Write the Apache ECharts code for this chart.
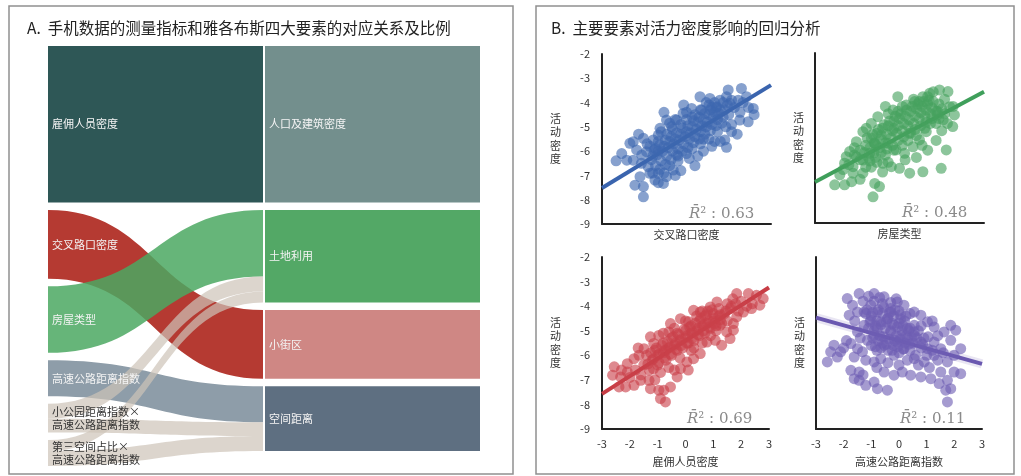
<!DOCTYPE html>
<html>
<head>
<meta charset="utf-8">
<script src="https://cdn.jsdelivr.net/npm/echarts@6/dist/echarts.min.js"></script>
<style>
html,body{margin:0;padding:0;background:#fff;}
#main{width:1021px;height:476px;}
</style>
</head>
<body>
<div id="main"></div>
<script>
// ---------- Panel A: phone-data measures -> Jacobs' four elements (share, %) ----------
const measureNames = ['雇佣人员密度', '交叉路口密度', '房屋类型', '高速公路距离指数',
  '小公园距离指数×高速公路距离指数', '第三空间占比×高速公路距离指数'];
const elementNames = ['人口及建筑密度', '土地利用', '小街区', '空间距离'];
const flowFrom = ['雇佣人员密度', '交叉路口密度', '房屋类型', '高速公路距离指数',
  '小公园距离指数×高速公路距离指数', '小公园距离指数×高速公路距离指数',
  '第三空间占比×高速公路距离指数', '第三空间占比×高速公路距离指数'];
const flowTo = ['人口及建筑密度', '小街区', '土地利用', '空间距离',
  '土地利用', '空间距离', '土地利用', '空间距离'];
const flowShare = [40.9, 18.0, 17.4, 9.4, 3.9, 3.6, 2.9, 3.9];

// ---------- Panel B: standardized predictor vs. log activity density ----------
const titleA = 'A.  手机数据的测量指标和雅各布斯四大要素的对应关系及比例';
const titleB = 'B.  主要要素对活力密度影响的回归分析';
const xNames = ['交叉路口密度', '房屋类型', '雇佣人员密度', '高速公路距离指数'];
const yName = '活动密度';
const r2Values = ['0.63', '0.48', '0.69', '0.11'];
const xTicks = [-3, -2, -1, 0, 1, 2, 3];
const yTicks = [-9, -8, -7, -6, -5, -4, -3, -2];

const crossDensity = [
  [1.48,-3.48],[1.95,-3.42],[1.42,-3.76],[1.84,-3.9],[2.13,-3.76],[2.37,-4.24],[2.19,-4.79],[1.89,-4.72],
  [1.54,-4.03],[1.19,-3.9],[1.07,-4.17],[0.83,-3.83],[0.48,-3.76],[0.54,-4.31],[0.18,-4.24],[-0.12,-4.45],
  [-0.35,-4.72],[-0.71,-4.72],[-0.53,-4.99],[-0.94,-5.06],[-1.0,-5.34],[-1.18,-5.54],[-1.53,-5.47],[-1.89,-5.61],
  [-2.01,-5.68],[-2.12,-6.37],[-1.89,-6.37],[-1.59,-6.16],[-1.42,-6.02],[-1.77,-5.95],[-1.36,-6.64],[-1.3,-6.91],
  [-1.65,-7.05],[-1.83,-7.4],[-1.53,-7.46],[-1.53,-7.88],[-1.12,-7.19],[-1.0,-6.91],[-0.71,-7.05],[-0.82,-7.33],
  [-0.47,-6.78],[1.36,-5.54],[1.42,-5.84],[1.6,-5.2],
  [-1.2,-6.2],[-1.0,-6.0],[-0.8,-5.8],[-0.6,-5.6],[-0.4,-5.5],[-0.2,-5.3],[0,-5.2],[0.2,-5.0],[0.4,-4.8],
  [0.6,-4.7],[0.8,-4.5],[1.0,-4.4],[1.2,-4.3],[-1.1,-6.6],[-0.9,-6.4],[-0.7,-6.2],[-0.5,-6.0],[-0.3,-5.9],
  [-0.1,-5.7],[0.1,-5.5],[0.3,-5.4],[0.5,-5.2],[0.7,-5.0],[0.9,-4.9],[1.1,-4.7],[1.3,-4.6],[-1.3,-5.8],
  [-1.0,-5.6],[-0.7,-5.3],[-0.5,-5.1],[-0.2,-4.9],[0.0,-4.7],[0.3,-4.5],[0.5,-4.3],[0.8,-4.1],[1.0,-4.0],
  [-0.6,-6.6],[-0.3,-6.4],[0,-6.1],[0.2,-5.9],[0.5,-5.7],[0.8,-5.5],[1.1,-5.2],[0.6,-6.0],[-0.2,-6.8],
  [0.1,-6.3],[0.9,-5.8],[1.5,-4.5],[1.7,-4.2],[1.3,-4.0],[0.0,-4.4],[-0.9,-5.2],[-1.4,-5.7],[-1.6,-6.5],
  [-1.2,-6.9],[-0.4,-7.0],[0.3,-6.6],[1.6,-4.9],[1.9,-4.4],[2.2,-4.2],[1.4,-5.0],[1.2,-5.6],[0.4,-6.2],
  [-0.8,-6.9],[-1.0,-7.3],[-2.3,-6.1],[-2.5,-6.4],[2.0,-4.0],[0.7,-4.0],[-0.1,-4.1],[-0.8,-4.4],[-1.7,-5.3],
  [2.4,-4.5],[1.0,-5.6],[0.6,-5.5],[-0.3,-6.2],[-1.1,-5.9],[0.2,-4.6],[0.9,-4.2],[1.8,-5.3],
  [-1.25,-6.35],[-1.05,-6.15],[-0.85,-6.0],[-0.65,-5.85],[-0.45,-5.7],[-0.25,-5.55],[-0.05,-5.4],[0.15,-5.25],
  [0.35,-5.1],[0.55,-4.95],[0.75,-4.8],[0.95,-4.6],[1.15,-4.45],[1.35,-4.3],[-1.15,-5.95],[-0.95,-5.75],
  [-0.75,-5.55],[-0.55,-5.4],[-0.35,-5.25],[-0.15,-5.05],[0.05,-4.95],[0.25,-4.75],[0.45,-4.6],[0.65,-4.45],
  [0.85,-4.3],[1.05,-4.2],[-0.95,-6.75],[-0.75,-6.55],[-0.55,-6.35],[-0.35,-6.15],[-0.15,-6.0],[0.05,-5.85],
  [0.25,-5.65],[0.45,-5.5],[0.65,-5.3],[0.85,-5.15],[1.05,-4.95],[1.25,-4.85],[-0.6,-4.85],[-0.4,-4.7],
  [1.45,-4.1],[1.6,-3.9]
];
const houseType = [
  [1.42,-3.52],[1.72,-3.59],[1.07,-3.66],[0.83,-3.8],[-0.06,-3.8],[0.54,-4.0],[0.24,-4.14],[-0.23,-4.35],
  [-0.77,-4.62],[-1.18,-5.1],[-1.3,-5.24],[-1.53,-5.65],[-1.89,-6.27],[-1.95,-6.54],[-1.65,-6.68],[-2.12,-7.02],
  [-2.3,-7.43],[-1.95,-7.43],[-1.65,-6.95],[-1.3,-6.95],[-0.88,-7.37],[-0.71,-7.5],[-0.94,-7.92],[-0.59,-6.54],
  [-0.29,-6.68],[0.0,-6.75],[0.36,-6.95],[0.83,-6.89],[1.48,-6.75],[1.66,-5.99],[1.89,-5.03],[1.95,-4.55],
  [1.78,-4.21],[1.3,-4.9],[0.95,-5.24],[0.71,-5.58],[0.48,-5.86],[0.18,-6.13],[-0.12,-5.99],[-0.41,-5.72],
  [-0.65,-5.38],[-0.88,-5.72],[-1.06,-6.13],[-1.3,-6.41],[-1.53,-6.27],[-1.77,-6.06],
  [-1.2,-5.8],[-1.0,-5.5],[-0.8,-5.3],[-0.6,-5.1],[-0.4,-5.0],[-0.2,-4.8],[0,-4.7],[0.2,-4.6],[0.4,-4.4],
  [0.6,-4.3],[0.8,-4.2],[1.0,-4.1],[1.2,-4.0],[1.4,-4.1],[-1.4,-6.0],[-1.1,-6.3],[-0.9,-6.1],[-0.7,-5.9],
  [-0.5,-5.7],[-0.3,-5.5],[-0.1,-5.3],[0.1,-5.2],[0.3,-5.0],[0.5,-4.9],[0.7,-4.7],[0.9,-4.6],[1.1,-4.5],
  [1.3,-4.4],[1.5,-4.3],[-1.0,-6.7],[-0.8,-6.5],[-0.5,-6.2],[-0.2,-6.0],[0.1,-5.8],[0.3,-5.6],[0.6,-5.4],
  [0.9,-5.1],[1.1,-4.9],[1.4,-4.7],[1.6,-4.5],[-0.4,-4.5],[0.1,-4.2],[0.5,-3.9],[1.0,-3.8],[1.2,-3.6],
  [-1.6,-5.9],[-1.8,-6.6],[-1.4,-7.2],[-0.6,-6.9],[0.2,-6.4],[0.6,-6.3],[1.0,-6.0],[1.3,-5.6],[1.7,-4.9],
  [1.9,-4.2],[1.6,-3.9],[-0.5,-4.2],[-1.0,-4.9],[-1.2,-6.7],[-0.4,-6.5],[0.8,-5.8],[1.5,-5.2],[0.4,-5.3],
  [-0.2,-5.1],[-0.9,-5.7],[-0.05,-4.4],[0.7,-4.0],[-2.0,-6.8],[-1.7,-7.3],
  [-1.25,-6.1],[-1.05,-5.9],[-0.85,-5.75],[-0.65,-5.55],[-0.45,-5.35],[-0.25,-5.2],[-0.05,-5.0],[0.15,-4.9],
  [0.35,-4.75],[0.55,-4.6],[0.75,-4.45],[0.95,-4.35],[1.15,-4.25],[1.35,-4.4],[-1.15,-5.5],[-0.95,-5.35],
  [-0.75,-5.15],[-0.55,-4.95],[-0.35,-4.8],[-0.15,-4.6],[0.05,-4.5],[0.25,-4.35],[0.45,-4.2],[0.65,-4.1],
  [0.85,-4.0],[1.05,-3.95],[-1.05,-6.45],[-0.85,-6.3],[-0.65,-6.1],[-0.45,-5.95],[-0.25,-5.8],[-0.05,-5.6],
  [0.15,-5.45],[0.35,-5.3],[0.55,-5.15],[0.75,-5.0],[0.95,-4.85],[1.15,-4.7],[1.35,-4.55],[1.55,-4.75],
  [-1.4,-6.4],[-1.6,-6.2]
];
const employDensity = [
  [1.84,-3.49],[2.26,-3.49],[2.55,-3.56],[2.79,-3.69],[2.67,-3.96],[2.37,-4.1],[2.08,-4.24],[1.84,-4.44],
  [1.72,-4.98],[1.48,-5.05],[1.24,-4.78],[1.13,-3.83],[0.89,-4.03],[0.53,-4.24],[0.29,-4.17],[0.11,-4.64],
  [-0.18,-4.51],[-0.54,-4.71],[-0.6,-5.05],[-0.96,-5.19],[-1.14,-5.52],[-1.26,-5.25],[-1.49,-5.73],[-1.67,-6.0],
  [-1.85,-6.14],[-2.09,-6.34],[-2.56,-6.47],[-2.62,-6.81],[-2.33,-6.88],[-2.09,-6.68],[-2.39,-7.29],[-2.15,-7.29],
  [-1.85,-7.22],[-1.61,-7.02],[-1.31,-7.02],[-1.26,-7.36],[-0.96,-7.42],[-0.78,-7.42],[-0.9,-7.76],[-0.72,-7.9],
  [-0.54,-7.29],[-0.3,-6.88],[-0.18,-6.54],[0.05,-6.27],[0.29,-6.14],[0.53,-5.93],[0.77,-5.46],[1.07,-5.39],
  [1.3,-5.59],[1.6,-5.32],[1.72,-4.71],
  [-1.5,-6.4],[-1.2,-6.2],[-1.0,-6.0],[-0.8,-5.9],[-0.6,-5.7],[-0.4,-5.6],[-0.2,-5.4],[0,-5.3],[0.2,-5.1],
  [0.4,-5.0],[0.6,-4.8],[0.8,-4.7],[1.0,-4.6],[1.2,-4.4],[1.4,-4.3],[1.6,-4.1],[-1.3,-6.6],[-1.0,-6.4],
  [-0.7,-6.2],[-0.5,-6.0],[-0.3,-5.8],[-0.1,-5.7],[0.1,-5.5],[0.3,-5.4],[0.5,-5.2],[0.7,-5.1],[0.9,-4.9],
  [1.1,-4.8],[1.3,-4.7],[1.5,-4.6],[-1.4,-6.0],[-1.1,-5.8],[-0.8,-5.5],[-0.5,-5.3],[-0.3,-5.1],[0,-5.0],
  [0.2,-4.8],[0.5,-4.6],[0.7,-4.4],[1.0,-4.3],[1.2,-4.1],[1.5,-3.9],[-0.9,-6.7],[-0.6,-6.5],[-0.2,-6.1],
  [0.2,-5.8],[0.6,-5.5],[0.9,-5.2],[-1.8,-6.6],[-2.0,-6.9],[-1.6,-6.8],[-1.1,-7.0],[0.4,-4.4],[-0.4,-4.9],
  [-0.8,-5.1],[1.8,-3.9],[2.0,-3.8],[2.2,-4.0],[1.9,-4.2],[1.7,-3.7],[0.8,-4.2],[0.0,-4.6],[-0.4,-6.6],
  [0.1,-6.6],[-2.3,-6.6],[-1.7,-5.7],[1.1,-5.0],[0.3,-5.7],[-0.7,-5.8],[0.6,-4.2],[2.4,-3.9],
  [-1.35,-6.35],[-1.15,-6.15],[-0.95,-5.95],[-0.75,-5.8],[-0.55,-5.65],[-0.35,-5.5],[-0.15,-5.35],[0.05,-5.2],
  [0.25,-5.05],[0.45,-4.9],[0.65,-4.75],[0.85,-4.6],[1.05,-4.5],[1.25,-4.35],[1.45,-4.2],[1.65,-4.0],
  [-1.25,-5.9],[-1.05,-5.7],[-0.85,-5.6],[-0.65,-5.45],[-0.45,-5.25],[-0.25,-5.15],[-0.05,-4.95],[0.15,-4.85],
  [0.35,-4.7],[0.55,-4.5],[0.75,-4.35],[0.95,-4.15],[-1.15,-6.55],[-0.95,-6.3],[-0.75,-6.1],[-0.55,-5.95],
  [-0.35,-5.75],[-0.15,-5.6],[0.05,-5.5],[0.25,-5.3],[0.45,-5.15],[0.65,-5.0],[0.85,-4.85],[1.05,-4.7],
  [1.25,-4.55]
];
const highwayIndex = [
  [-1.87,-3.69],[-1.44,-3.49],[-0.9,-3.49],[-0.54,-3.62],[-0.06,-3.83],[0.18,-3.96],[0.55,-4.24],[0.79,-4.37],
  [1.03,-4.64],[1.27,-4.85],[1.63,-5.05],[1.87,-4.78],[2.05,-4.98],[1.87,-5.39],[2.23,-5.73],[1.99,-6.0],
  [1.75,-6.27],[1.51,-6.68],[1.99,-6.68],[2.23,-6.75],[1.75,-7.02],[1.45,-7.15],[1.87,-7.36],[1.69,-7.42],
  [1.75,-7.9],[1.15,-6.95],[0.79,-6.88],[0.42,-6.81],[0.12,-6.68],[-0.18,-6.81],[-0.42,-7.42],[-0.78,-7.36],
  [-0.9,-7.09],[-1.2,-7.22],[-1.44,-7.02],[-1.62,-6.95],[-1.44,-6.68],[-1.74,-6.61],[-2.59,-6.27],[-2.47,-5.86],
  [-2.35,-5.59],[-2.11,-5.86],[-2.23,-6.07],[-1.74,-5.52],[-1.62,-6.07],[-1.32,-5.86],[-1.5,-5.73],[-1.14,-5.39],
  [-0.9,-5.19],[-0.78,-4.91],[-0.66,-4.64],[-1.68,-3.96],[-1.5,-4.24],[-1.8,-4.37],[-1.26,-4.24],[-1.02,-3.96],
  [-0.3,-4.24],[0.06,-4.51],[0.3,-4.91],[0.55,-5.19],[0.79,-5.46],[1.03,-5.73],[1.27,-6.0],[-0.06,-5.46],
  [-0.3,-5.05],[-0.54,-5.59],[-0.18,-6.0],[0.18,-5.73],[0.55,-6.14],[0.91,-6.27],[-0.66,-6.14],[-0.9,-6.27],
  [-0.54,-6.68],[1.27,-5.46],[1.51,-5.73],[0.55,-4.78],[0.06,-5.19],[-0.42,-4.51],[-0.78,-4.24],[-0.18,-4.78],
  [-1.26,-4.78],[-1.5,-5.05],[-1.02,-4.57],
  [-1.2,-4.3],[-1.0,-4.4],[-0.8,-4.6],[-0.6,-4.3],[-0.4,-4.5],[-0.2,-4.4],[0,-4.7],[0.2,-4.6],[0.4,-4.9],
  [-1.1,-4.9],[-0.9,-5.0],[-0.7,-5.2],[-0.5,-4.9],[-0.3,-5.0],[-0.1,-5.2],[0.1,-5.0],[0.3,-5.3],[0.5,-5.5],
  [0.7,-5.0],[0.9,-5.3],[-1.0,-5.6],[-0.8,-5.8],[-0.6,-5.5],[-0.4,-5.8],[-0.2,-5.6],[0.0,-5.9],[0.2,-5.5],
  [0.4,-5.8],[0.6,-6.0],[0.8,-5.7],[1.0,-6.0],[1.2,-5.8],[-0.9,-3.8],[-0.6,-3.9],[-0.3,-4.1],[0,-4.2],
  [-1.3,-3.8],[-1.6,-4.6],[-1.4,-5.3],[-1.2,-6.2],[-0.8,-6.5],[-0.4,-6.3],[0.0,-6.4],[0.3,-6.2],[0.7,-6.4],
  [1.1,-6.5],[1.4,-6.2],[1.6,-5.9],[1.4,-5.2],[1.2,-4.6],[-0.1,-3.7],[0.4,-4.3],[0.8,-4.8],[-1.9,-5.4],
  [-2.0,-5.7],[-1.3,-6.8],
  [-1.15,-4.15],[-0.95,-4.25],[-0.75,-4.15],[-0.55,-4.05],[-0.35,-4.25],[-0.15,-4.15],[0.05,-4.35],[0.25,-4.4],
  [-1.05,-4.65],[-0.85,-4.8],[-0.65,-4.75],[-0.45,-4.65],[-0.25,-4.7],[-0.05,-4.85],[0.15,-4.8],[0.35,-5.0],
  [0.55,-5.05],[-0.95,-5.3],[-0.75,-5.4],[-0.55,-5.25],[-0.35,-5.35],[-0.15,-5.4],[0.05,-5.35],[0.25,-5.2],
  [0.45,-5.3],[0.65,-5.3],[-0.85,-5.65],[-0.65,-5.7],[-0.45,-5.55],[-0.25,-5.8],[-0.05,-5.65],[0.15,-5.75],
  [0.35,-5.55],[-0.7,-3.65],[-0.3,-3.85],[-1.1,-3.6],[0.85,-5.55],[1.05,-5.25]
];
// fitted regression lines, endpoints at x = -3 and x = 3
const fitLines = [
  [[-3, -7.52], [3, -3.28]],
  [[-3, -7.31], [3, -3.6]],
  [[-3, -7.57], [3, -3.24]],
  [[-3, -4.47], [3, -6.35]]
];
const scatterSets = [crossDensity, houseType, employDensity, highwayIndex];

// ---------- styles ----------
const FONT = '"Noto Sans CJK SC", "Noto Sans", sans-serif';
const inflowColors = ['#2e5756', '#b53a32', '#4ba862', '#8e9da9', '#cdc3b8', '#cdc3b8', '#cdc3b8', '#cdc3b8'];
const inflowOpacity = [1, 1, 0.85, 1, 0.7, 0.7, 0.7, 0.7];
const elementColors = ['#738f8d', '#53a866', '#cf8784', '#5e6f81'];
const dotColors = ['#3d67b0', '#45a25e', '#c9414a', '#6e5db3'];
const fitColors = ['#3a64ae', '#3f9f5b', '#c73d45', '#6a58b0'];

// grid boxes of the four regression plots
const grids = [
  { left: 602, top: 54, width: 169, height: 170 },
  { left: 815, top: 53, width: 169, height: 170 },
  { left: 602, top: 257, width: 167, height: 172 },
  { left: 816, top: 257, width: 166, height: 172 }
];

// ---------- sankey nodes & links ----------
const tailName = n => n + '→';
const sankeyNodes = [];
measureNames.forEach((n, i) => {
  const dark = i >= 4;
  sankeyNodes.push({
    name: n,
    label: {
      color: dark ? '#333' : '#f4f4f4',
      formatter: n.replace('×', '×\n'),
      lineHeight: 13
    }
  });
});
elementNames.forEach(n => sankeyNodes.push({ name: n, label: { color: '#f4f4f4' } }));
elementNames.forEach(n => sankeyNodes.push({ name: tailName(n), label: { show: false } }));

const sankeyLinks = [];
flowFrom.forEach((s, i) => {
  sankeyLinks.push({
    source: s, target: flowTo[i], value: flowShare[i],
    lineStyle: { color: inflowColors[i], opacity: inflowOpacity[i] }
  });
});
elementNames.forEach((n, i) => {
  let total = 0;
  flowTo.forEach((t, j) => { if (t === n) total += flowShare[j]; });
  sankeyLinks.push({
    source: n, target: tailName(n), value: +total.toFixed(2),
    lineStyle: { color: elementColors[i], opacity: 1 }
  });
});

// ---------- regression plot axes ----------
const xAxes = grids.map((g, i) => ({
  type: 'value', gridIndex: i, min: xTicks[0], max: xTicks[xTicks.length - 1], interval: 1,
  axisLine: { onZero: false, lineStyle: { color: '#222', width: 2 } },
  axisTick: { show: false },
  splitLine: { show: false },
  axisLabel: { show: i >= 2, color: '#333', fontSize: 11, margin: 9, fontFamily: FONT },
  name: xNames[i], nameLocation: 'middle', nameGap: i >= 2 ? 27 : 5,
  nameTextStyle: { color: '#333', fontSize: 11, fontFamily: FONT }
}));
const yNamePad = [12, 10, 14, 36];
const yAxes = grids.map((g, i) => ({
  type: 'value', gridIndex: i, min: yTicks[0], max: yTicks[yTicks.length - 1], interval: 1,
  axisLine: { onZero: false, lineStyle: { color: '#222', width: 2 } },
  axisTick: { show: false },
  splitLine: { show: false },
  axisLabel: { show: i === 0 || i === 2, color: '#333', fontSize: 11, margin: 12, fontFamily: FONT },
  name: yName.split('').join('\n'), nameLocation: 'middle', nameRotate: 0,
  nameGap: (i === 0 || i === 2) ? 41 : 11,
  nameTextStyle: { color: '#333', fontSize: 11, lineHeight: 13.5, fontFamily: FONT, padding: [0, 0, yNamePad[i], 0] }
}));

const plotSeries = [];
grids.forEach((g, i) => {
  if (i === 3) {
    // faint confidence band around the weak negative fit
    plotSeries.push({
      type: 'line', xAxisIndex: i, yAxisIndex: i, data: fitLines[i], showSymbol: false, silent: true,
      lineStyle: { color: fitColors[i], width: 9, opacity: 0.15 }, z: 2
    });
  }
  plotSeries.push({
    type: 'line', xAxisIndex: i, yAxisIndex: i, data: fitLines[i], showSymbol: false, silent: true,
    lineStyle: { color: fitColors[i], width: 4 }, z: 2
  });
  plotSeries.push({
    type: 'scatter', xAxisIndex: i, yAxisIndex: i, data: scatterSets[i], symbolSize: 11, silent: true,
    itemStyle: { color: dotColors[i], opacity: 0.62 }, z: 3
  });
});

// R-bar-squared annotations, placed at the lower right of each plot
const r2Graphics = grids.map((g, i) => ({
  type: 'text',
  x: g.left + g.width - 82,
  y: g.top + g.height - 10,
  style: {
    text: '{r|R\u0304}{n|² : ' + r2Values[i] + '}',
    verticalAlign: 'middle',
    rich: {
      r: { fontFamily: '"DejaVu Serif", serif', fontStyle: 'italic', fontSize: 15, fill: '#8a8a8a' },
      n: { fontFamily: '"DejaVu Serif", serif', fontSize: 15, fill: '#8a8a8a' }
    }
  },
  z: 10
}));

const chart = echarts.init(document.getElementById('main'), null, { renderer: 'canvas' });
chart.setOption({
  animation: false,
  backgroundColor: '#fff',
  title: [
    { text: titleA, left: 22, top: 15, textStyle: { fontSize: 15.5, fontWeight: 'normal', color: '#222', fontFamily: FONT } },
    { text: titleB, left: 546, top: 15, textStyle: { fontSize: 15.5, fontWeight: 'normal', color: '#222', fontFamily: FONT } }
  ],
  graphic: [
    { type: 'rect', shape: { x: 9, y: 6, width: 504, height: 468 }, style: { fill: 'none', stroke: '#909090', lineWidth: 1.5 }, silent: true },
    { type: 'rect', shape: { x: 536, y: 6, width: 478, height: 468 }, style: { fill: 'none', stroke: '#909090', lineWidth: 1.5 }, silent: true }
  ].concat(r2Graphics),
  grid: grids,
  xAxis: xAxes,
  yAxis: yAxes,
  series: [{
    type: 'sankey',
    left: 46, right: 539, top: 46, bottom: 10,
    nodeWidth: 2, nodeGap: 7.5, layoutIterations: 0,
    draggable: false,
    emphasis: { disabled: true },
    itemStyle: { color: '#fff', borderWidth: 0 },
    label: { position: 'right', distance: 4, fontSize: 11, fontFamily: FONT },
    lineStyle: { curveness: 0.5 },
    data: sankeyNodes,
    links: sankeyLinks
  }].concat(plotSeries)
});
</script>
</body>
</html>
